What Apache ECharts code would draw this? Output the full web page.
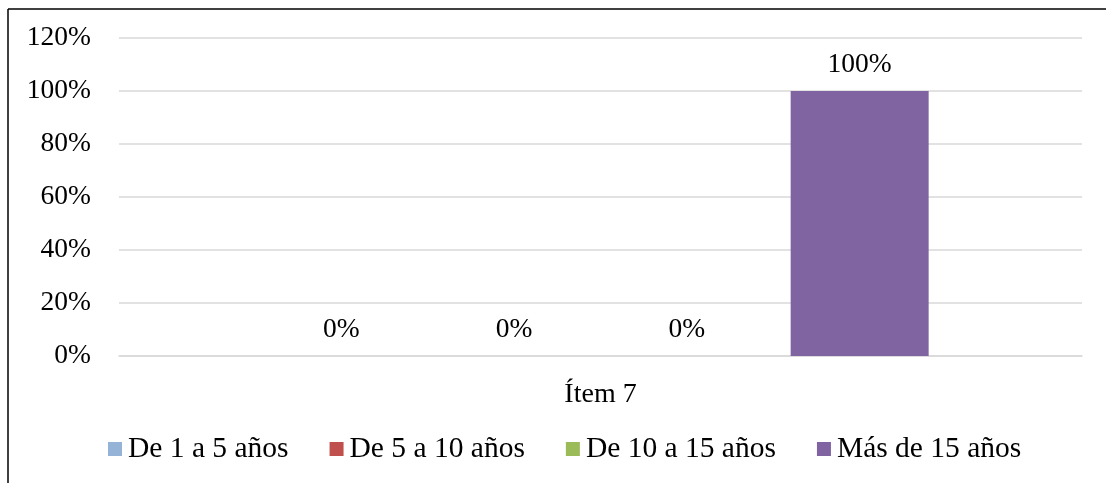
<!DOCTYPE html>
<html>
<head>
<meta charset="utf-8">
<script src="https://cdn.jsdelivr.net/npm/echarts@6/dist/echarts.min.js"></script>
<style>
html,body{margin:0;padding:0;background:#fff;}
#chart{width:1106px;height:483px;}
</style>
</head>
<body>
<div id="chart"></div>
<script>
var categories = ['Ítem 7'];
var seriesNames = ['De 1 a 5 años', 'De 5 a 10 años', 'De 10 a 15 años', 'Más de 15 años'];
var seriesValues = [[0], [0], [0], [100]];
var seriesColors = ['#95B3D7', '#C0504D', '#9BBB59', '#8064A2'];
var yTicks = {min: 0, max: 120, interval: 20};

var font = 'Liberation Serif, Times New Roman, serif';
var chart = echarts.init(document.getElementById('chart'), null, {renderer: 'canvas'});
var series = seriesNames.map(function (name, i) {
  return {
    name: name,
    type: 'bar',
    data: seriesValues[i],
    barWidth: 138,
    barGap: '25.2%',
    itemStyle: {color: seriesColors[i]},
    label: {
      show: true,
      position: 'top',
      distance: 12,
      formatter: '{c}%',
      color: '#000',
      fontFamily: font,
      fontSize: 27.5
    }
  };
});
chart.setOption({
  animation: false,
  textStyle: {fontFamily: font},
  grid: {left: 119, right: 24, top: 38, bottom: 127, containLabel: false},
  legend: {
    data: seriesNames,
    bottom: 14,
    left: 103,
    itemWidth: 14,
    itemHeight: 14,
    itemGap: 41,
    icon: 'rect',
    textStyle: {fontFamily: font, fontSize: 29.5, color: '#000', padding: [0, 0, 0, 1]}
  },
  xAxis: {
    type: 'category',
    data: categories,
    axisLine: {show: true, lineStyle: {color: '#D9D9D9', width: 1.5}},
    axisTick: {show: false},
    axisLabel: {color: '#000', fontFamily: font, fontSize: 28, margin: 25}
  },
  yAxis: {
    type: 'value',
    min: yTicks.min,
    max: yTicks.max,
    interval: yTicks.interval,
    axisLine: {show: false},
    axisTick: {show: false},
    splitLine: {lineStyle: {color: '#D9D9D9', width: 1.5}},
    axisLabel: {color: '#000', fontFamily: font, fontSize: 27.5, margin: 28, formatter: '{value}%'}
  },
  graphic: [
    {type: 'line', shape: {x1: 8, y1: 9, x2: 1106, y2: 9}, style: {stroke: '#000', lineWidth: 1.5}},
    {type: 'line', shape: {x1: 8, y1: 9, x2: 8, y2: 483}, style: {stroke: '#000', lineWidth: 1.5}}
  ],
  series: series
});
</script>
</body>
</html>
